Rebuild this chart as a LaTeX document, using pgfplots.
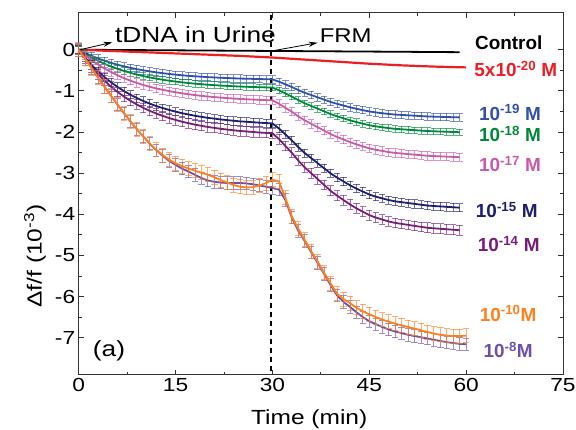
\documentclass[border=0pt]{standalone}
\usepackage{fontspec}
\setmainfont{Liberation Sans}[FakeStretch=1.2]
\newfontfamily\labfont{Liberation Sans}
\usepackage{pgfplots}
\pgfplotsset{compat=1.18}
\usetikzlibrary{arrows.meta}
\definecolor{cred}{RGB}{235,30,35}
\definecolor{cblue}{RGB}{50,80,170}
\definecolor{cgreen}{RGB}{0,135,60}
\definecolor{cpink}{RGB}{200,90,170}
\definecolor{cnavy}{RGB}{30,30,110}
\definecolor{cpurple}{RGB}{120,30,120}
\definecolor{corange}{RGB}{255,128,32}
\definecolor{cviolet}{RGB}{110,80,170}
\pgfplotsset{
  eb/.style 2 args={no markers, line width=1.8bp, color=#1,
    error bars/y dir=both, error bars/y fixed=#2,
    error bars/error bar style={line width=0.75bp, color=#1, opacity=0.65},
    error bars/error mark options={rotate=90, mark size=3.2bp, line width=0.75bp, color=#1, opacity=0.65}},
}
\begin{document}
\begin{tikzpicture}
\begin{axis}[at={(0,0)}, anchor=south west, scale only axis,
  width=484.3bp, height=362bp, clip=false,
  xmin=0, xmax=75, ymin=-7.9, ymax=0.9,
  xtick={0,15,30,45,60,75}, xticklabels={0,15,30,45,60,75},
  ytick={-7,-6,-5,-4,-3,-2,-1,0}, yticklabels={-7,-6,-5,-4,-3,-2,-1,0},
  minor x tick num=1, minor y tick num=1,
  tick align=inside, major tick length=5bp, minor tick length=3bp,
  axis line style={line width=0.9bp, color=black!80},
  every tick/.style={line width=0.8bp, color=black!80},
  ticklabel style={font=\fontsize{19}{20}\selectfont},
  xlabel={Time (min)}, ylabel={Δf/f (10\textsuperscript{-3})},
  label style={font=\fontsize{20.5}{22}\selectfont},
  xlabel style={at={(axis description cs:0.476,-0.122)}, anchor=center},
  ylabel style={at={(axis description cs:-0.09,0.328)}, anchor=center},
]
\draw[black, dashed, line width=1.3bp, dash pattern=on 5bp off 4bp] (axis cs:29.8,0.85) -- (axis cs:29.8,-7.9);

\addplot[black, line width=1.8bp] coordinates {(0,0)(10,-0.01)(20,-0.02)(30,-0.03)(40,-0.04)(50,-0.05)(59,-0.06)};
\addplot[cred, line width=2.2bp] coordinates {(0,0)(5,-0.03)(10,-0.06)(15,-0.09)(20,-0.12)(25,-0.15)(30,-0.19)(35,-0.24)(40,-0.29)(45,-0.34)(50,-0.38)(55,-0.41)(60,-0.43)};

\addplot[eb={cblue}{0.09}] coordinates {(0,0)(1,-0.078)(2,-0.149)(3,-0.212)(4,-0.268)(5,-0.318)(6,-0.364)(7,-0.404)(8,-0.440)(9,-0.472)(10,-0.501)(11,-0.527)(12,-0.550)(13,-0.570)(14,-0.589)(15,-0.606)(16,-0.621)(17,-0.634)(18,-0.646)(19,-0.656)(20,-0.666)(21,-0.674)(22,-0.682)(23,-0.688)(24,-0.695)(25,-0.701)(26,-0.705)(27,-0.709)(28,-0.714)(29,-0.717)(30,-0.720)(31,-0.776)(32,-0.841)(33,-0.906)(34,-0.980)(35,-1.046)(36,-1.101)(37,-1.157)(38,-1.213)(39,-1.269)(40,-1.315)(41,-1.357)(42,-1.399)(43,-1.436)(44,-1.469)(45,-1.501)(46,-1.524)(47,-1.543)(48,-1.562)(49,-1.576)(50,-1.585)(51,-1.594)(52,-1.604)(53,-1.613)(54,-1.622)(55,-1.627)(56,-1.631)(57,-1.636)(58,-1.641)(59,-1.645)};

\addplot[eb={cgreen}{0.08}] coordinates {(0,0)(1,-0.100)(2,-0.190)(3,-0.270)(4,-0.342)(5,-0.407)(6,-0.465)(7,-0.516)(8,-0.562)(9,-0.604)(10,-0.640)(11,-0.673)(12,-0.703)(13,-0.729)(14,-0.753)(15,-0.774)(16,-0.793)(17,-0.810)(18,-0.825)(19,-0.838)(20,-0.851)(21,-0.861)(22,-0.871)(23,-0.880)(24,-0.888)(25,-0.895)(26,-0.901)(27,-0.906)(28,-0.912)(29,-0.916)(30,-0.920)(31,-0.985)(32,-1.062)(33,-1.138)(34,-1.225)(35,-1.302)(36,-1.367)(37,-1.432)(38,-1.498)(39,-1.563)(40,-1.618)(41,-1.667)(42,-1.716)(43,-1.759)(44,-1.797)(45,-1.836)(46,-1.863)(47,-1.885)(48,-1.906)(49,-1.923)(50,-1.934)(51,-1.945)(52,-1.956)(53,-1.966)(54,-1.977)(55,-1.983)(56,-1.988)(57,-1.994)(58,-1.999)(59,-2.005)};

\addplot[eb={cpink}{0.10}] coordinates {(0,0)(1,-0.134)(2,-0.255)(3,-0.362)(4,-0.458)(5,-0.544)(6,-0.621)(7,-0.690)(8,-0.752)(9,-0.807)(10,-0.856)(11,-0.900)(12,-0.940)(13,-0.974)(14,-1.006)(15,-1.034)(16,-1.060)(17,-1.082)(18,-1.103)(19,-1.121)(20,-1.138)(21,-1.151)(22,-1.165)(23,-1.176)(24,-1.187)(25,-1.197)(26,-1.204)(27,-1.212)(28,-1.219)(29,-1.225)(30,-1.230)(31,-1.313)(32,-1.411)(33,-1.508)(34,-1.619)(35,-1.717)(36,-1.800)(37,-1.883)(38,-1.967)(39,-2.050)(40,-2.120)(41,-2.182)(42,-2.245)(43,-2.300)(44,-2.349)(45,-2.398)(46,-2.432)(47,-2.460)(48,-2.488)(49,-2.509)(50,-2.523)(51,-2.537)(52,-2.551)(53,-2.564)(54,-2.578)(55,-2.585)(56,-2.592)(57,-2.599)(58,-2.606)(59,-2.613)};

\addplot[eb={cnavy}{0.10}] coordinates {(0,0)(1,-0.195)(2,-0.371)(3,-0.526)(4,-0.666)(5,-0.791)(6,-0.904)(7,-1.004)(8,-1.094)(9,-1.174)(10,-1.246)(11,-1.310)(12,-1.368)(13,-1.418)(14,-1.464)(15,-1.505)(16,-1.543)(17,-1.575)(18,-1.606)(19,-1.631)(20,-1.656)(21,-1.675)(22,-1.695)(23,-1.711)(24,-1.727)(25,-1.742)(26,-1.752)(27,-1.763)(28,-1.774)(29,-1.783)(30,-1.790)(31,-1.914)(32,-2.058)(33,-2.202)(34,-2.367)(35,-2.511)(36,-2.635)(37,-2.758)(38,-2.882)(39,-3.005)(40,-3.108)(41,-3.201)(42,-3.294)(43,-3.376)(44,-3.448)(45,-3.520)(46,-3.572)(47,-3.613)(48,-3.654)(49,-3.685)(50,-3.706)(51,-3.726)(52,-3.747)(53,-3.768)(54,-3.788)(55,-3.799)(56,-3.809)(57,-3.819)(58,-3.829)(59,-3.840)};

\addplot[eb={cpurple}{0.12}] coordinates {(0,0)(1,-0.221)(2,-0.420)(3,-0.597)(4,-0.755)(5,-0.897)(6,-1.025)(7,-1.139)(8,-1.240)(9,-1.332)(10,-1.413)(11,-1.486)(12,-1.551)(13,-1.608)(14,-1.661)(15,-1.707)(16,-1.750)(17,-1.786)(18,-1.821)(19,-1.849)(20,-1.878)(21,-1.900)(22,-1.922)(23,-1.941)(24,-1.959)(25,-1.975)(26,-1.987)(27,-2.000)(28,-2.012)(29,-2.022)(30,-2.030)(31,-2.172)(32,-2.338)(33,-2.504)(34,-2.694)(35,-2.860)(36,-3.002)(37,-3.144)(38,-3.286)(39,-3.428)(40,-3.547)(41,-3.653)(42,-3.760)(43,-3.855)(44,-3.938)(45,-4.021)(46,-4.080)(47,-4.127)(48,-4.175)(49,-4.210)(50,-4.234)(51,-4.258)(52,-4.282)(53,-4.305)(54,-4.329)(55,-4.341)(56,-4.353)(57,-4.364)(58,-4.376)(59,-4.388)};

\addplot[eb={cviolet}{0.15}] coordinates {(0,0)(1,-0.22)(2,-0.45)(3,-0.68)(4,-0.90)(5,-1.12)(6,-1.33)(7,-1.54)(8,-1.74)(9,-1.93)(10,-2.11)(11,-2.28)(12,-2.44)(13,-2.58)(14,-2.70)(15,-2.80)(16,-2.89)(17,-2.96)(18,-3.04)(19,-3.12)(20,-3.18)(21,-3.21)(22,-3.23)(23,-3.24)(24,-3.24)(25,-3.24)(26,-3.25)(27,-3.27)(28,-3.30)(29,-3.33)(30,-3.36)(31,-3.40)(32,-3.65)(33,-4.08)(34,-4.40)(35,-4.65)(36,-4.92)(37,-5.18)(38,-5.45)(39,-5.72)(40,-5.97)(41,-6.13)(42,-6.25)(43,-6.38)(44,-6.50)(45,-6.60)(46,-6.67)(47,-6.74)(48,-6.80)(49,-6.85)(50,-6.89)(51,-6.93)(52,-6.96)(53,-6.99)(54,-7.02)(55,-7.05)(56,-7.08)(57,-7.11)(58,-7.13)(59,-7.15)(60,-7.16)};

\addplot[eb={corange}{0.17}] coordinates {(0,0)(1,-0.22)(2,-0.45)(3,-0.68)(4,-0.90)(5,-1.12)(6,-1.33)(7,-1.54)(8,-1.74)(9,-1.93)(10,-2.11)(11,-2.28)(12,-2.43)(13,-2.56)(14,-2.67)(15,-2.76)(16,-2.83)(17,-2.89)(18,-2.94)(19,-2.99)(20,-3.04)(21,-3.10)(22,-3.17)(23,-3.23)(24,-3.29)(25,-3.33)(26,-3.35)(27,-3.34)(28,-3.30)(29,-3.24)(30,-3.16)(31,-3.20)(32,-3.60)(33,-4.05)(34,-4.35)(35,-4.62)(36,-4.90)(37,-5.15)(38,-5.42)(39,-5.68)(40,-5.93)(41,-6.06)(42,-6.16)(43,-6.27)(44,-6.36)(45,-6.43)(46,-6.50)(47,-6.56)(48,-6.61)(49,-6.66)(50,-6.70)(51,-6.74)(52,-6.78)(53,-6.82)(54,-6.86)(55,-6.90)(56,-6.93)(57,-6.95)(58,-6.96)(59,-6.96)(60,-6.95)};

% annotations
\draw[-{Stealth[length=9bp,width=5bp]}, line width=0.8bp] (axis cs:0.2,0) -- (axis cs:5.2,0.18);
\node[anchor=base west, font=\fontsize{22}{24}\selectfont, inner sep=0pt] at (axis cs:5.6,0.17) {tDNA in Urine};
\draw[-{Stealth[length=9bp,width=5bp]}, line width=0.8bp] (axis cs:29.9,-0.03) -- (axis cs:37.0,0.17);
\node[anchor=base west, font=\fontsize{20}{22}\selectfont, inner sep=0pt] at (axis cs:37.3,0.18) {FRM};
\node[anchor=base, font=\fontsize{22}{24}\selectfont, inner sep=0pt] at (axis cs:4.7,-7.45) {(a)};

\begin{scope}[every node/.style={anchor=base, inner sep=0pt, font=\labfont\bfseries\fontsize{19}{20}\selectfont}]
\node[black] at (axis cs:66.6,0.0) {Control};
\node[cred] at (axis cs:67.7,-0.66) {5x10\textsuperscript{-20} M};
\node[cblue] at (axis cs:66.8,-1.71) {10\textsuperscript{-19} M};
\node[cgreen] at (axis cs:66.8,-2.24) {10\textsuperscript{-18} M};
\node[cpink] at (axis cs:66.8,-2.96) {10\textsuperscript{-17} M};
\node[cnavy] at (axis cs:66.3,-4.08) {10\textsuperscript{-15} M};
\node[cpurple] at (axis cs:66.6,-4.90) {10\textsuperscript{-14} M};
\node[corange] at (axis cs:66.5,-6.60) {10\textsuperscript{-10}M};
\node[cviolet] at (axis cs:66.5,-7.48) {10\textsuperscript{-8}M};
\end{scope}
\end{axis}
\pgfresetboundingbox
\path[use as bounding box] (-78.7bp,-55.3bp) rectangle (497.3bp,374.7bp);
\end{tikzpicture}
\end{document}
